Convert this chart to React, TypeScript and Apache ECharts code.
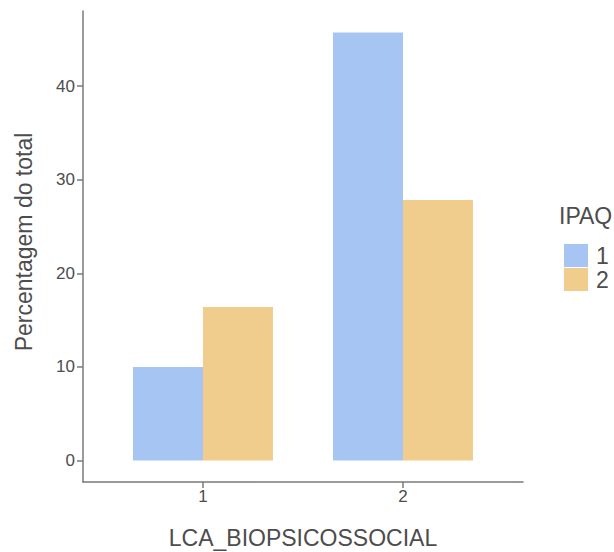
import React, { useEffect, useRef } from "react";
import * as echarts from "echarts";

const categories = [1, 2];
const categoryLabels = ["1", "2"];
const seriesNames = ["1", "2"];
const ipaq1 = [10.0, 45.75];
const ipaq2 = [16.4, 27.85];
const yTicks = [0, 10, 20, 30, 40];
const colors = ["#A6C5F2", "#F0CC8D"];

const FONT = "'Liberation Sans', Arial, sans-serif";

export default function App() {
  const ref = useRef<HTMLDivElement>(null);
  useEffect(() => {
    if (!ref.current) return;
    const chart = echarts.init(ref.current, null, { renderer: "svg" });
    const allVals = [...ipaq1, ...ipaq2];
    const maxV = Math.max(...allVals);
    const pad = maxV * 0.05;
    const axisColor = "#7a7a7a";
    chart.setOption({
      animation: false,
      textStyle: { fontFamily: FONT },
      grid: { left: 83, right: 91, top: 11, bottom: 70 },
      xAxis: {
        type: "value",
        min: categories[0] - 0.6,
        max: categories[categories.length - 1] + 0.6,
        splitLine: { show: false },
        axisLine: { show: true, onZero: false, lineStyle: { color: axisColor, width: 1.5 } },
        axisTick: { show: true, length: 6, customValues: categories, lineStyle: { color: axisColor, width: 1.5 } },
        axisLabel: {
          customValues: categories,
          formatter: (v: number) => categoryLabels[categories.indexOf(v)] ?? "",
          fontSize: 17,
          color: "#4d4d4d",
          margin: 6,
          fontFamily: FONT,
        },
      },
      yAxis: {
        type: "value",
        min: -pad,
        max: maxV + pad,
        splitLine: { show: false },
        axisLine: { show: true, onZero: false, lineStyle: { color: axisColor, width: 1.5 } },
        axisTick: { show: true, length: 6, customValues: yTicks, lineStyle: { color: axisColor, width: 1.5 } },
        axisLabel: {
          customValues: yTicks,
          fontSize: 17,
          color: "#4d4d4d",
          margin: 8,
          fontFamily: FONT,
        },
      },
      legend: {
        orient: "vertical",
        left: 559,
        top: 239,
        itemWidth: 24,
        itemHeight: 23,
        itemGap: 1,
        icon: "rect",
        data: seriesNames,
        textStyle: { fontSize: 23, color: "#4d4d4d", fontFamily: FONT, padding: [0, 0, 0, 3], lineHeight: 23 },
      },
      graphic: [
        {
          type: "text",
          x: 303,
          y: 538,
          style: {
            text: "LCA_BIOPSICOSSOCIAL",
            fontSize: 23,
            fill: "#4d4d4d",
            fontFamily: FONT,
            textAlign: "center",
            textVerticalAlign: "middle",
          },
        },
        {
          type: "text",
          x: 24,
          y: 242,
          rotation: Math.PI / 2,
          style: {
            text: "Percentagem do total",
            fontSize: 23,
            fill: "#4d4d4d",
            fontFamily: FONT,
            textAlign: "center",
            textVerticalAlign: "middle",
          },
        },
        {
          type: "text",
          x: 559,
          y: 216,
          style: {
            text: "IPAQ",
            fontSize: 23,
            fill: "#4d4d4d",
            fontFamily: FONT,
            textAlign: "left",
            textVerticalAlign: "middle",
          },
        },
      ],
      series: [
        {
          name: seriesNames[0],
          type: "bar",
          barWidth: 70,
          barGap: "0%",
          itemStyle: { color: colors[0] },
          data: categories.map((c, i) => [c, ipaq1[i]]),
        },
        {
          name: seriesNames[1],
          type: "bar",
          barWidth: 70,
          barGap: "0%",
          itemStyle: { color: colors[1] },
          data: categories.map((c, i) => [c, ipaq2[i]]),
        },
      ],
    });
    return () => chart.dispose();
  }, []);
  return (
    <div
      ref={ref}
      style={{ position: "absolute", left: 0, top: 0, width: 614, height: 552 }}
    />
  );
}
